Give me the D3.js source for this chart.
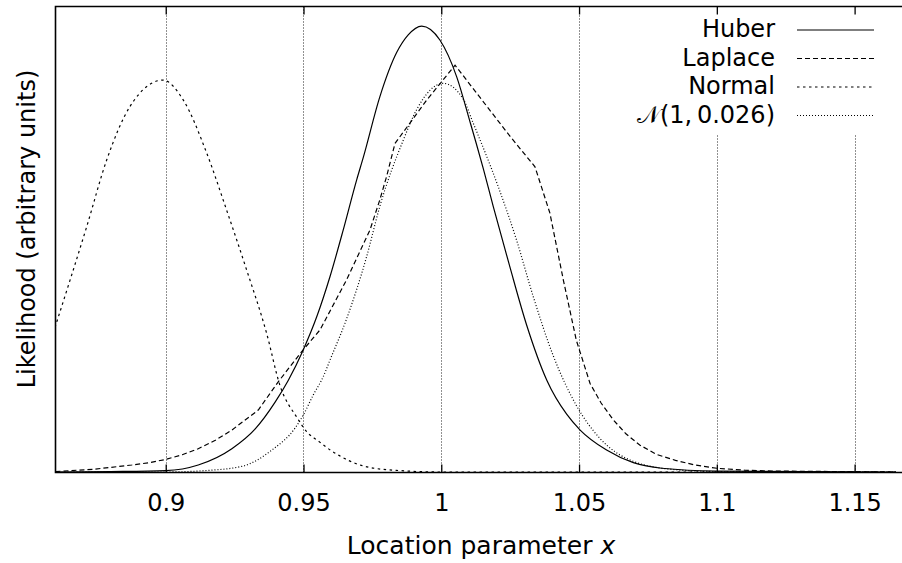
<!DOCTYPE html>
<meta charset="utf-8">
<script src="https://d3js.org/d3.v7.min.js"></script>
<style>
    body { margin: 0; background: #fff; }
</style>
<div id="my_dataviz"></div>
<script>

    // x ticks of the bottom axis
    var xTicks = [0.9, 0.95, 1, 1.05, 1.1, 1.15];
    var xTickLabels = ["0.9", "0.95", "1", "1.05", "1.1", "1.15"];

    // likelihood curves: [x, likelihood]
    var huber = [[0.86, 0], [0.88, 0.001], [0.9, 0.003], [0.9118, 0.015], [0.924, 0.05], [0.9324, 0.092],
        [0.9397, 0.15], [0.9445, 0.197], [0.9499, 0.262], [0.9548, 0.333], [0.9596, 0.419], [0.9644, 0.519],
        [0.9693, 0.627], [0.9717, 0.675], [0.9777, 0.805], [0.9838, 0.9], [0.988, 0.938], [0.9929, 0.957],
        [0.9995, 0.927], [1.0056, 0.848], [1.0104, 0.752], [1.0127, 0.705], [1.0152, 0.652], [1.0189, 0.569],
        [1.0249, 0.44], [1.031, 0.315], [1.0383, 0.197], [1.0455, 0.124], [1.0504, 0.09], [1.06, 0.047],
        [1.0697, 0.02], [1.08, 0.008], [1.1, 0.002], [1.165, 0]];

    var laplace = [[0.86, 0.001], [0.874, 0.006], [0.8877, 0.015], [0.894, 0.02], [0.9, 0.027], [0.906, 0.037],
        [0.9118, 0.05], [0.918, 0.068], [0.924, 0.09], [0.9336, 0.133], [0.9409, 0.194], [0.9493, 0.258],
        [0.956, 0.305], [0.9656, 0.412], [0.9741, 0.519], [0.9777, 0.584], [0.9802, 0.635], [0.9832, 0.705],
        [0.9947, 0.798], [1.005, 0.873], [1.025, 0.72], [1.034, 0.655], [1.0394, 0.556], [1.0443, 0.412],
        [1.049, 0.283], [1.054, 0.19], [1.058, 0.148], [1.0624, 0.112], [1.067, 0.082], [1.072, 0.058],
        [1.078, 0.038], [1.085, 0.025], [1.092, 0.015], [1.1, 0.008], [1.11, 0.004], [1.12, 0.002], [1.165, 0]];

    var normal = [[0.8598, 0.31], [0.8713, 0.526], [0.8786, 0.67], [0.887, 0.784], [0.899, 0.841],
        [0.9064, 0.798], [0.9149, 0.684], [0.9221, 0.562], [0.9294, 0.433], [0.9366, 0.298], [0.9415, 0.185],
        [0.9475, 0.118], [0.9517, 0.083], [0.9548, 0.069], [0.96, 0.046], [0.973, 0.011], [0.985, 0.003],
        [1.0, 0], [1.165, 0]];

    var gauss = [[0.86, 0], [0.9, 0], [0.9143, 0.003], [0.9276, 0.012], [0.9385, 0.047], [0.9469, 0.094],
        [0.9499, 0.122], [0.9536, 0.166], [0.9572, 0.205], [0.9596, 0.24], [0.9656, 0.328], [0.9729, 0.462],
        [0.9777, 0.57], [0.9862, 0.712], [0.991, 0.777], [1.0007, 0.834], [1.008, 0.8], [1.0115, 0.75],
        [1.0205, 0.615], [1.0273, 0.498], [1.0334, 0.376], [1.0406, 0.25], [1.049, 0.143], [1.0576, 0.072],
        [1.0696, 0.023], [1.085, 0.005], [1.1, 0.001], [1.165, 0]];

    var seriesNames = ["Huber", "Laplace", "Normal", "\u{1D4A9}(1,\u20090.026)"];
    var seriesData = [huber, laplace, normal, gauss];
    var seriesDash = [null, "5,3", "2.5,3.5", "1,2"];
    var seriesCurve = [d3.curveMonotoneX, d3.curveLinear, d3.curveMonotoneX, d3.curveMonotoneX];

    var font = "'DejaVu Sans', sans-serif";

    var width = 902, height = 563;
    var plot = { left: 55.5, right: 902, top: 6.5, bottom: 472.5 };

    var svg = d3.select("#my_dataviz")
        .append("svg")
        .attr("width", width)
        .attr("height", height)
        .style("font-family", font);

    var x = d3.scaleLinear()
        .domain([0.86, 1.1672])
        .range([plot.left, plot.right]);

    var y = d3.scaleLinear()
        .domain([0, 1])
        .range([472, 6]);

    // dotted grid lines
    svg.append("g")
        .selectAll("line")
        .data(xTicks)
        .enter()
        .append("line")
        .attr("x1", function (d) { return Math.round(x(d)) + 0.5; })
        .attr("x2", function (d) { return Math.round(x(d)) + 0.5; })
        .attr("y1", plot.bottom)
        .attr("y2", plot.top)
        .style("stroke", "#222")
        .style("stroke-width", 1)
        .style("stroke-dasharray", "1,2");

    // curves
    svg.append("clipPath").attr("id", "clip")
        .append("rect")
        .attr("x", plot.left).attr("y", plot.top)
        .attr("width", plot.right - plot.left).attr("height", plot.bottom - plot.top);

    svg.append("g")
        .attr("clip-path", "url(#clip)")
        .selectAll("path")
        .data(seriesData)
        .enter()
        .append("path")
        .attr("d", function (d, i) {
            return d3.line()
                .x(function (p) { return x(p[0]); })
                .y(function (p) { return y(p[1]); })
                .curve(seriesCurve[i])(d);
        })
        .style("fill", "none")
        .style("stroke", "#000")
        .style("stroke-width", 1.2)
        .style("stroke-dasharray", function (d, i) { return seriesDash[i]; });

    // legend (white box hides the grid)
    svg.append("rect")
        .attr("x", 615).attr("y", plot.top + 1)
        .attr("width", plot.right - 615).attr("height", 127)
        .style("fill", "#fff");

    var legend = svg.append("g")
        .selectAll("g")
        .data(seriesNames)
        .enter()
        .append("g")
        .attr("transform", function (d, i) { return "translate(0," + (37 + i * 28.5) + ")"; });

    legend.append("text")
        .attr("x", 775)
        .attr("text-anchor", "end")
        .style("font-family", font)
        .style("font-size", "24px")
        .text(function (d) { return d; });

    legend.append("line")
        .attr("x1", 797).attr("x2", 874)
        .attr("y1", -7).attr("y2", -7)
        .style("stroke", "#000")
        .style("stroke-width", 1.2)
        .style("stroke-dasharray", function (d, i) { return seriesDash[i]; });

    // bottom axis
    var xAxis = svg.append("g")
        .attr("transform", "translate(0," + plot.bottom + ")")
        .call(d3.axisBottom(x)
            .tickValues(xTicks)
            .tickFormat(function (d, i) { return xTickLabels[i]; })
            .tickSize(-8)
            .tickPadding(21.5));
    xAxis.select(".domain").remove();
    xAxis.selectAll("text")
        .style("font-family", font)
        .style("font-size", "24px");
    xAxis.selectAll("line").style("stroke-width", 1.3);

    // top ticks
    var topAxis = svg.append("g")
        .attr("transform", "translate(0," + plot.top + ")")
        .call(d3.axisTop(x).tickValues(xTicks).tickSize(-8).tickFormat(""));
    topAxis.select(".domain").remove();
    topAxis.selectAll("line").style("stroke-width", 1.3);

    // frame: top, left, bottom
    svg.append("path")
        .attr("d", "M" + plot.right + "," + plot.top + "H" + plot.left + "V" + plot.bottom + "H" + plot.right)
        .style("fill", "none")
        .style("stroke", "#000")
        .style("stroke-width", 1.6);

    // axis labels
    svg.append("text")
        .attr("x", 481)
        .attr("y", 554)
        .attr("text-anchor", "middle")
        .style("font-family", font)
        .style("font-size", "25px")
        .html('Location parameter <tspan font-style="italic">x</tspan>');

    svg.append("text")
        .attr("transform", "translate(35,229) rotate(-90)")
        .attr("text-anchor", "middle")
        .style("font-family", font)
        .style("font-size", "24px")
        .text("Likelihood (arbitrary units)");

</script>
